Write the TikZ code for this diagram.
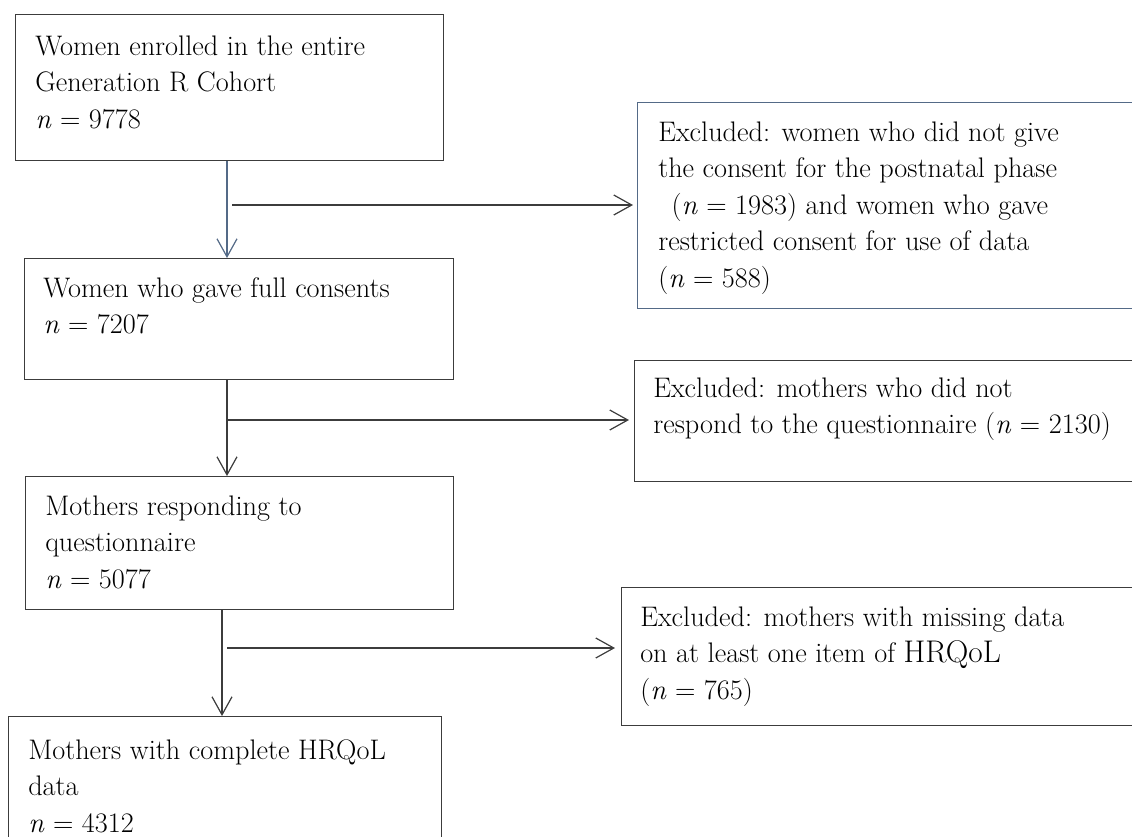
\documentclass[tikz,border=0pt]{standalone}
\usetikzlibrary{arrows.meta,calc}
\definecolor{bluegray}{RGB}{84,106,135}
\definecolor{edge}{RGB}{60,60,60}
\begin{document}
\begin{tikzpicture}[x=0.75pt,y=-0.75pt,
  box/.style={draw=edge,line width=0.9pt,rectangle,inner sep=0pt,anchor=north west},
  txt/.style={inner sep=0pt,anchor=north west,align=left,font=\fontsize{21.2}{27.4}\selectfont},
  arr/.style={draw=edge,line width=0.9pt,-{Straight Barb[length=13.5pt,width=15pt]}}]
\useasboundingbox (0,0) rectangle (1132,836);
\clip (0,0) rectangle (1132,836);
% boxes
\node[box,minimum width=321pt,minimum height=109.5pt] (A) at (15,14) {};
\node[box,minimum width=321.75pt,minimum height=90.75pt] (B) at (24,258) {};
\node[box,minimum width=321pt,minimum height=99.75pt] (C) at (25,476) {};
\node[box,minimum width=324.75pt,minimum height=100.5pt] (D) at (8,716) {};
\node[box,draw=bluegray,minimum width=377.25pt,minimum height=154.5pt] (E1) at (637,102) {};
\node[box,minimum width=379.5pt,minimum height=90.75pt] (E2) at (634,360) {};
\node[box,minimum width=389.25pt,minimum height=103.5pt] (E3) at (621,587) {};
% texts
\node[txt] (tA) at (35,29.4) {\strut Women enrolled in the entire\\Generation R Cohort\\\textit{n} = 9778};
\node[txt] (tB) at (43,271.4) {\strut Women who gave full consents\\\textit{n} = 7207};
\node[txt] (tC) at (45,489.4) {\strut Mothers responding to\\questionnaire\\\textit{n} = 5077};
\node[txt] (tD) at (28,733.4) {\strut Mothers with complete HRQoL\\data\\\textit{n} = 4312};
\node[txt] (tE1) at (658,115.4) {\strut Excluded: women who did not give\\the consent for the postnatal phase\\\hspace*{10pt}(\textit{n} = 1983) and women who gave\\restricted consent for use of data\\(\textit{n} = 588)};
\node[txt] (tE2) at (653,371.4) {\strut Excluded: mothers who did not\\respond to the questionnaire (\textit{n} = 2130)};
\node[txt] (tE3) at (640,600.4) {\strut Excluded: mothers with missing data\\on at least one item of {\fontsize{23.5}{27.4}\selectfont HRQoL}\\(\textit{n} = 765)};
% connectors
\coordinate (v1) at (227,0);
\coordinate (v3) at (222,0);
\coordinate (b1) at (232,205);
\coordinate (b2) at (227,420);
\coordinate (b3) at (227,648);
\draw[arr,draw=bluegray] (A.south -| v1) -- (B.north -| v1);
\draw[arr] (b1) -- ([xshift=-3pt]b1 -| E1.west);
\draw[arr] (B.south -| v1) -- (C.north -| v1);
\draw[arr] (b2) -- ([xshift=-3.75pt]b2 -| E2.west);
\draw[arr] (C.south -| v3) -- (D.north -| v3);
\draw[arr] (b3) -- ([xshift=-4.5pt]b3 -| E3.west);
\end{tikzpicture}
\end{document}
